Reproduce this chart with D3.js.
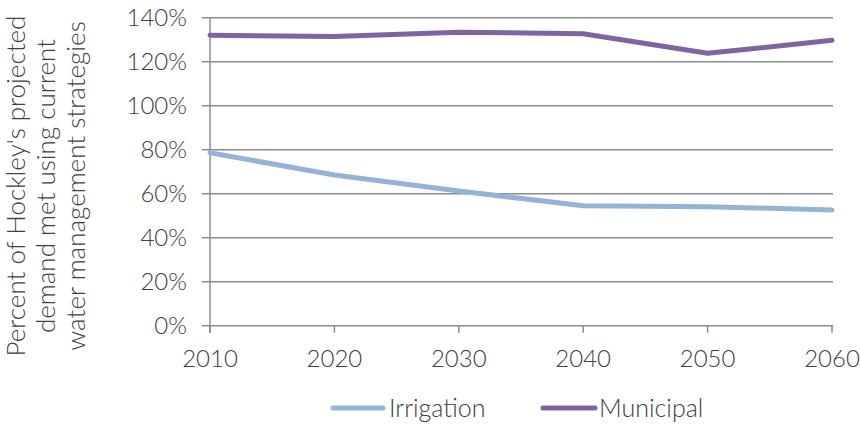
<!DOCTYPE html>
<html><head><meta charset="utf-8">
<script src="https://cdn.jsdelivr.net/npm/d3@7"></script>
<style>body{margin:0;background:#fff}text{font-family:Lato,"Open Sans",sans-serif;font-weight:300;fill:#404040}</style>
</head><body><svg id="c" width="860" height="425"></svg>
<script>
const years = [2010, 2020, 2030, 2040, 2050, 2060];
const irrigation = [78.6, 68.5, 61.2, 54.5, 54.1, 52.6];
const municipal = [132.0, 131.4, 133.4, 132.7, 123.8, 129.7];
const yTicks = [0, 20, 40, 60, 80, 100, 120, 140];
const seriesNames = ["Irrigation", "Municipal"];
const colors = ["#95B3D7", "#8064A2"];

const svg = d3.select("#c");
const x = d3.scalePoint().domain(years).range([210, 832]);
const y = d3.scaleLinear().domain([0, 140]).range([325.7, 17.7]);
const gridC = "#8c8c8c";

// gridlines
svg.append("g").selectAll("line").data(yTicks).join("line")
  .attr("x1", 202).attr("x2", 833)
  .attr("y1", d => y(d)).attr("y2", d => y(d))
  .attr("stroke", gridC).attr("stroke-width", 1.5);
// y axis line
svg.append("line").attr("x1", 210).attr("x2", 210).attr("y1", y(140)).attr("y2", y(0) + 7)
  .attr("stroke", gridC).attr("stroke-width", 1.5);
// x ticks
svg.append("g").selectAll("line").data(years).join("line")
  .attr("x1", d => x(d)).attr("x2", d => x(d))
  .attr("y1", y(0)).attr("y2", y(0) + 7)
  .attr("stroke", gridC).attr("stroke-width", 1.5);
// y labels
svg.append("g").selectAll("text").data(yTicks).join("text")
  .attr("x", 187).attr("y", d => y(d)).attr("dy", "0.36em")
  .attr("text-anchor", "end").attr("font-size", 24).text(d => d + "%");
// x labels
svg.append("g").selectAll("text").data(years).join("text")
  .attr("x", d => x(d)).attr("y", 358).attr("dy", "0.36em")
  .attr("text-anchor", "middle").attr("font-size", 24).text(d => d);

// lines
const line = d3.line().x((d, i) => x(years[i])).y(d => y(d));
[irrigation, municipal].forEach((s, k) => {
  svg.append("path").attr("d", line(s)).attr("fill", "none")
    .attr("stroke", colors[k]).attr("stroke-width", 5)
    .attr("stroke-linejoin", "round").attr("stroke-linecap", "round");
});

// y title
const tg = svg.append("text").attr("transform", "translate(0,186) rotate(-90)")
  .attr("text-anchor", "middle").attr("font-size", 26);
["Percent of Hockley's projected", "demand met using current", "water management strategies"]
  .forEach((t, i) => tg.append("tspan").attr("x", 0).attr("y", 25 + i * 30).text(t));

// legend
const legX = [[333, 383, 389], [543, 595, 599]];
seriesNames.forEach((n, k) => {
  svg.append("line").attr("x1", legX[k][0]).attr("x2", legX[k][1]).attr("y1", 408).attr("y2", 408)
    .attr("stroke", colors[k]).attr("stroke-width", 5).attr("stroke-linecap", "round");
  svg.append("text").attr("x", legX[k][2]).attr("y", 408).attr("dy", "0.36em")
    .attr("font-size", 25).text(n);
});
</script></body></html>
